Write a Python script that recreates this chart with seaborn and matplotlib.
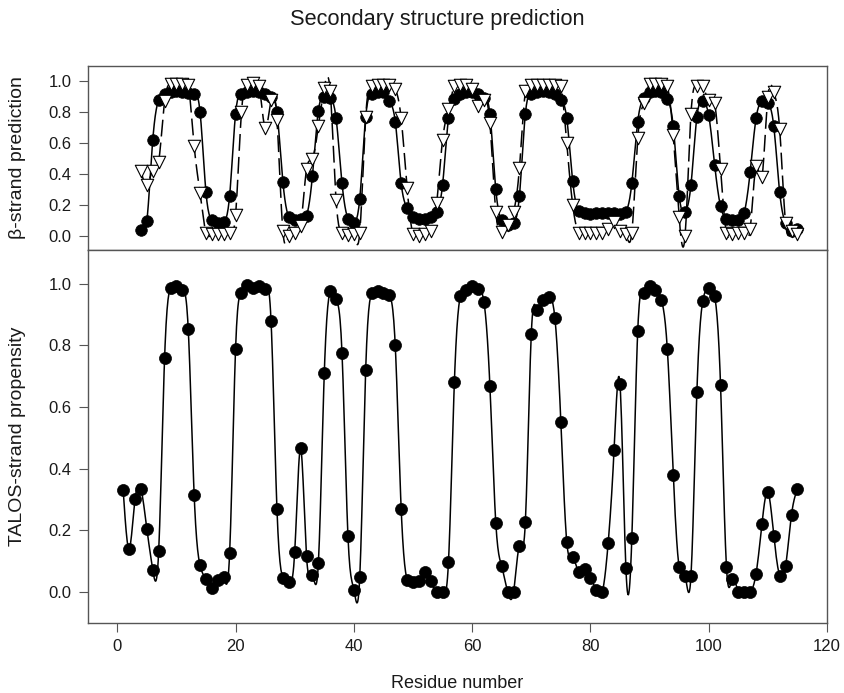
import numpy as np
import pandas as pd
import matplotlib
matplotlib.use("Agg")
import matplotlib.pyplot as plt
import seaborn as sns

# ---------------- data ----------------
talos_residue = list(range(1, 116))
talos_propensity = [
    0.33, 0.14, 0.30, 0.335, 0.205, 0.072, 0.132, 0.76, 0.988, 0.992,
    0.981, 0.853, 0.315, 0.086, 0.042, 0.014, 0.038, 0.047, 0.127, 0.789,
    0.972, 0.996, 0.987, 0.993, 0.984, 0.88, 0.268, 0.046, 0.031, 0.129,
    0.466, 0.115, 0.054, 0.093, 0.71, 0.976, 0.951, 0.775, 0.183, 0.0075,
    0.049, 0.722, 0.97, 0.977, 0.97, 0.963, 0.80, 0.27, 0.04, 0.031,
    0.036, 0.064, 0.037, 0.0, 0.0, 0.098, 0.683, 0.96, 0.979, 0.993,
    0.984, 0.941, 0.67, 0.224, 0.083, 0.0, 0.0, 0.15, 0.228, 0.837,
    0.915, 0.947, 0.958, 0.888, 0.553, 0.162, 0.114, 0.064, 0.075, 0.045,
    0.0075, 0.0, 0.159, 0.462, 0.674, 0.076, 0.174, 0.848, 0.972, 0.993,
    0.981, 0.947, 0.789, 0.381, 0.081, 0.052, 0.052, 0.649, 0.945, 0.986,
    0.96, 0.672, 0.081, 0.043, 0.0, 0.0, 0.0, 0.059, 0.22, 0.325,
    0.183, 0.052, 0.083, 0.251, 0.334,
]

pred_residue = list(range(4, 116))
pred_circles = [
    0.035, 0.095, 0.62, 0.88, 0.92, 0.93, 0.935, 0.93, 0.925, 0.92,
    0.80, 0.28, 0.10, 0.08, 0.09, 0.26, 0.79, 0.92, 0.93, 0.935,
    0.93, 0.92, 0.90, 0.80, 0.35, 0.12, 0.10, 0.11, 0.13, 0.39,
    0.81, 0.90, 0.89, 0.76, 0.34, 0.11, 0.085, 0.24, 0.77, 0.92,
    0.93, 0.93, 0.87, 0.74, 0.34, 0.18, 0.12, 0.11, 0.11, 0.12,
    0.155, 0.33, 0.76, 0.885, 0.92, 0.93, 0.93, 0.92, 0.89, 0.79,
    0.30, 0.10, 0.07, 0.08, 0.26, 0.79, 0.92, 0.93, 0.935, 0.93,
    0.92, 0.88, 0.76, 0.355, 0.16, 0.145, 0.14, 0.15, 0.15, 0.15,
    0.145, 0.14, 0.155, 0.34, 0.74, 0.89, 0.93, 0.935, 0.93, 0.885,
    0.71, 0.26, 0.155, 0.33, 0.77, 0.87, 0.78, 0.46, 0.19, 0.11,
    0.10, 0.10, 0.15, 0.41, 0.76, 0.87, 0.86, 0.71, 0.28, 0.08,
    0.03, 0.04,
]
pred_triangles = [
    0.42, 0.33, 0.42, 0.48, 0.87, 0.985, 0.985, 0.985, 0.98, 0.58,
    0.275, 0.02, 0.01, 0.01, 0.01, 0.02, 0.135, 0.80, 0.98, 0.99,
    0.97, 0.70, 0.88, 0.75, 0.03, 0.0, 0.02, 0.06, 0.43, 0.50,
    0.71, 0.96, 0.935, 0.23, 0.015, 0.005, 0.01, 0.02, 0.77, 0.97,
    0.98, 0.98, 0.98, 0.95, 0.76, 0.31, 0.01, 0.0, 0.01, 0.03,
    0.21, 0.62, 0.82, 0.97, 0.98, 0.98, 0.95, 0.84, 0.88, 0.73,
    0.155, 0.026, 0.07, 0.155, 0.44, 0.935, 0.975, 0.98, 0.98, 0.98,
    0.975, 0.97, 0.60, 0.20, 0.02, 0.02, 0.02, 0.02, 0.02,
    0.04, 0.09, 0.03, 0.01, 0.02, 0.63, 0.86, 0.985, 0.985, 0.985,
    0.97, 0.65, 0.12, 0.0, 0.79, 0.97, 0.97, 0.88, 0.86, 0.43,
    0.02, 0.01, 0.02, 0.02, 0.04, 0.45, 0.38, 0.90, 0.93, 0.69,
    0.08, 0.03, 0.01,
]

x_ticks = [0, 20, 40, 60, 80, 100, 120]
y_ticks = [0.0, 0.2, 0.4, 0.6, 0.8, 1.0]


def natural_spline(x, y, per=12):
    x = np.asarray(x, float)
    y = np.asarray(y, float)
    n = len(x)
    h = np.diff(x)
    A = np.zeros((n, n))
    b = np.zeros(n)
    A[0, 0] = 1.0
    A[-1, -1] = 1.0
    for i in range(1, n - 1):
        A[i, i - 1] = h[i - 1]
        A[i, i] = 2 * (h[i - 1] + h[i])
        A[i, i + 1] = h[i]
        b[i] = 6 * ((y[i + 1] - y[i]) / h[i] - (y[i] - y[i - 1]) / h[i - 1])
    M = np.linalg.solve(A, b)
    xs, ys = [], []
    for i in range(n - 1):
        t = np.linspace(x[i], x[i + 1], per, endpoint=(i == n - 2))
        a = x[i + 1] - t
        c = t - x[i]
        s = (M[i] * a ** 3 + M[i + 1] * c ** 3) / (6 * h[i]) \
            + (y[i] / h[i] - M[i] * h[i] / 6) * a \
            + (y[i + 1] / h[i] - M[i + 1] * h[i] / 6) * c
        xs.append(t)
        ys.append(s)
    return np.concatenate(xs), np.concatenate(ys)


sns.set_style("ticks")
plt.rcParams["font.family"] = ["Liberation Sans", "DejaVu Sans"]

fig = plt.figure(figsize=(8.44, 6.93), dpi=100)
L, R = 87.7 / 844, 827 / 844
ax1 = fig.add_axes([L, 1 - 250 / 693, R - L, (250 - 66) / 693])
ax2 = fig.add_axes([L, 1 - 622.7 / 693, R - L, (622.7 - 250) / 693])

spine_c = "#555555"
for ax in (ax1, ax2):
    for s in ax.spines.values():
        s.set_color(spine_c)
        s.set_linewidth(1.0)
    ax.set_xlim(-5, 120)
    ax.set_xticks(x_ticks)
    ax.set_yticks(y_ticks)
    ax.tick_params(direction="out", length=6.5, width=0.8, color=spine_c, pad=5,
                   labelsize=12, labelcolor="#1a1a1a")

# ---- top panel ----
pc = pd.DataFrame({"res": pred_residue, "circ": pred_circles, "tri": pred_triangles})
sx, sy = natural_spline(pc["res"], pc["circ"])
sns.lineplot(x=sx, y=sy, ax=ax1, color="black", lw=1.1, sort=False, estimator=None)
tx, ty = natural_spline(pc["res"], pc["tri"])
sns.lineplot(x=tx, y=ty, ax=ax1, color="black", lw=1.1, sort=False, estimator=None,
             linestyle=(0, (11, 4)))
sns.scatterplot(data=pc, x="res", y="circ", ax=ax1, marker="o", s=70,
                color="black", edgecolor="black", linewidth=0.5, zorder=3)
sns.scatterplot(data=pc, x="res", y="tri", ax=ax1, marker="v", s=80,
                color="white", edgecolor="black", linewidth=0.8, zorder=4)
ax1.set_ylim(-0.093, 1.10)
ax1.set_xlabel("")
ax1.set_xticklabels([])
ax1.set_ylabel("β-strand prediction", fontsize=14, color="#1a1a1a")

# ---- bottom panel ----
tb = pd.DataFrame({"res": talos_residue, "val": talos_propensity})
bx, by = natural_spline(tb["res"], tb["val"])
sns.lineplot(x=bx, y=by, ax=ax2, color="black", lw=1.1, sort=False, estimator=None)
sns.scatterplot(data=tb, x="res", y="val", ax=ax2, marker="o", s=75,
                color="black", edgecolor="black", linewidth=0.5, zorder=3)
ax2.set_ylim(-0.1, 1.11)
ax2.set_xlabel("Residue number", fontsize=13, labelpad=15, color="#1a1a1a")
ax2.set_ylabel("TALOS-strand propensity", fontsize=14, color="#1a1a1a")
ax1.yaxis.set_label_coords(-0.083, 0.5)
ax2.yaxis.set_label_coords(-0.083, 0.5)

fig.text(437 / 844, 1 - 20 / 693, "Secondary structure prediction",
         ha="center", va="center", fontsize=15.7, color="#1a1a1a")

fig.savefig("out.png", dpi=100)
